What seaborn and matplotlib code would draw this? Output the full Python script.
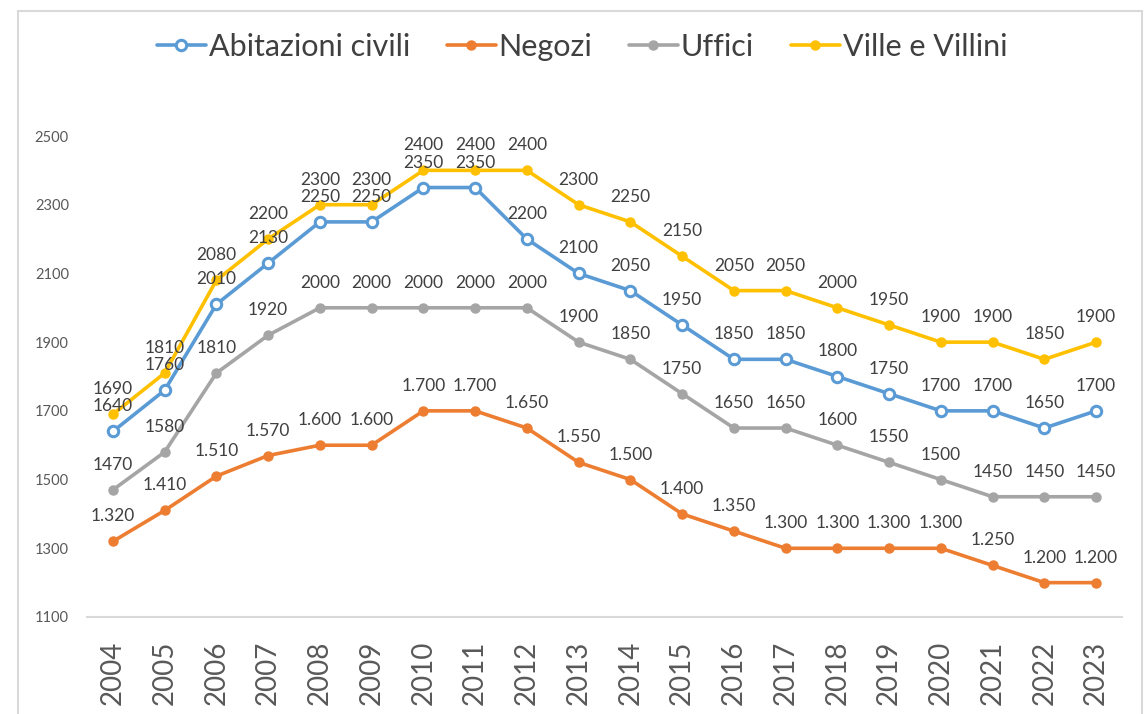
import numpy as np
import pandas as pd
import matplotlib
matplotlib.use("Agg")
import matplotlib.pyplot as plt
import seaborn as sns
from matplotlib.patches import Rectangle

# ---------------- data ----------------
years = list(range(2004, 2024))
abitazioni = [1640, 1760, 2010, 2130, 2250, 2250, 2350, 2350, 2200, 2100,
              2050, 1950, 1850, 1850, 1800, 1750, 1700, 1700, 1650, 1700]
negozi = [1320, 1410, 1510, 1570, 1600, 1600, 1700, 1700, 1650, 1550,
          1500, 1400, 1350, 1300, 1300, 1300, 1300, 1250, 1200, 1200]
uffici = [1470, 1580, 1810, 1920, 2000, 2000, 2000, 2000, 2000, 1900,
          1850, 1750, 1650, 1650, 1600, 1550, 1500, 1450, 1450, 1450]
ville = [1690, 1810, 2080, 2200, 2300, 2300, 2400, 2400, 2400, 2300,
         2250, 2150, 2050, 2050, 2000, 1950, 1900, 1900, 1850, 1900]
series_names = ["Abitazioni civili", "Negozi", "Uffici", "Ville e Villini"]
series_values = [abitazioni, negozi, uffici, ville]
colors = ["#5B9BD5", "#ED7D31", "#A5A5A5", "#FFC000"]
y_ticks = [1100, 1300, 1500, 1700, 1900, 2100, 2300, 2500]

df = pd.DataFrame({
    "Anno": years * len(series_names),
    "Valore": sum(series_values, []),
    "Serie": sum([[n] * len(years) for n in series_names], []),
})

# ---------------- style ----------------
sns.set_theme(style="white")
plt.rcParams['font.family'] = ['Lato', 'DejaVu Sans']

W, H = 1145, 714
fig = plt.figure(figsize=(W / 100, H / 100), dpi=100)
fig.patch.set_facecolor("white")

# outer frame
fig.patches.append(Rectangle((18 / W, -0.02), (1142 - 18) / W, 1 - 11 / H + 0.02,
                             transform=fig.transFigure, fill=False,
                             edgecolor="#d9d9d9", lw=1.5))

ax = fig.add_axes([87 / W, (H - 617) / H, (1122 - 87) / W, (617 - 136) / H])
ax.set_facecolor("none")

handles = []
for name, color in zip(series_names, colors):
    sub = df[df["Serie"] == name]
    if name == "Abitazioni civili":
        mk = dict(marker="o", markersize=7.5, markerfacecolor="white",
                  markeredgecolor=color, markeredgewidth=2.2)
    else:
        mk = dict(marker="o", markersize=6.5, markerfacecolor=color,
                  markeredgecolor=color, markeredgewidth=1)
    sns.lineplot(data=sub, x="Anno", y="Valore", color=color, linewidth=2.6,
                 ax=ax, legend=False, **mk)
    line = ax.get_lines()[-1]
    line.set_label(name)
    handles.append(line)

    for x, v in zip(sub["Anno"], sub["Valore"]):
        txt = f"{v:,}".replace(",", ".") if name == "Negozi" else str(v)
        ax.annotate(txt, (x, v), xytext=(0, 25), textcoords="offset pixels",
                    ha="center", va="center", fontsize=12.5, color="#404040",
                    annotation_clip=False)

ax.set_xlim(2003.5, 2023.5)
ax.set_ylim(1100, 2500)
ax.set_xticks(years)
ax.set_xticklabels([str(y) for y in years], rotation=90, fontsize=20,
                   color="#595959")
ax.set_yticks(y_ticks)
ax.set_yticklabels([str(t) for t in y_ticks], fontsize=10.5, color="#595959")
ax.tick_params(axis="x", length=0, pad=17)
ax.tick_params(axis="y", length=0, pad=13)
ax.set_xlabel("")
ax.set_ylabel("")
for s in ["left", "right", "top"]:
    ax.spines[s].set_visible(False)
ax.spines["bottom"].set_color("#d9d9d9")
ax.spines["bottom"].set_linewidth(1.5)
ax.grid(False)

fig.legend(handles=handles, labels=series_names, loc="center",
           bbox_to_anchor=(582 / W, 1 - 47 / H), ncol=4, frameon=False,
           fontsize=22, handlelength=1.6, handletextpad=0.1,
           columnspacing=1.2, labelcolor="#404040")

fig.savefig("out.png", dpi=100, facecolor="white")
